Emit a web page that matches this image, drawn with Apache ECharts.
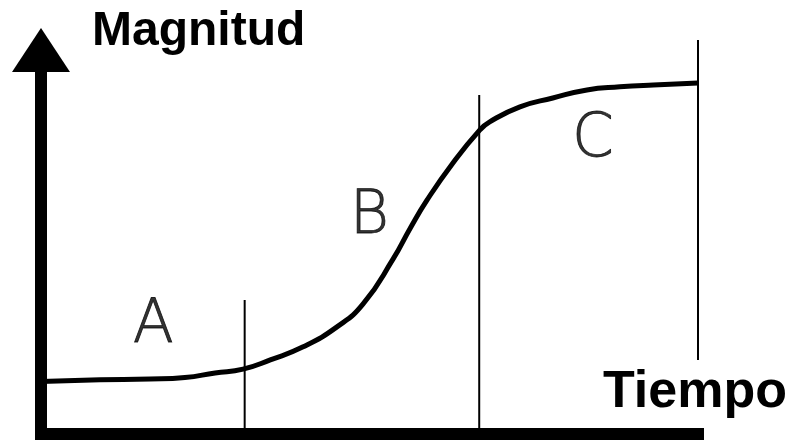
<!DOCTYPE html>
<html>
<head>
<meta charset="utf-8">
<script src="https://cdn.jsdelivr.net/npm/echarts@6/dist/echarts.min.js"></script>
<style>
  html, body { margin: 0; padding: 0; background: #fff; }
  #chart { width: 790px; height: 440px; }
</style>
</head>
<body>
<div id="chart"></div>
<script>
// Curve (time in % of total, magnitude in % of max)
const curveTime = [0, 8.98, 16.6, 21.9, 26.5, 30.75, 34.9, 39.9, 45.05, 49.0, 53.6, 56.2, 58.75, 62.7, 66.8, 68.3, 72.9, 77.9, 83.1, 88.1, 93.2, 100];
const curveMagnitude = [13.7, 14.1, 14.3, 14.7, 15.9, 16.9, 19.3, 22.7, 27.9, 33.8, 45.6, 53.6, 60.9, 70.6, 79.2, 81.3, 85.2, 87.5, 89.6, 90.4, 90.9, 91.4];

// Phase boundaries (vertical lines)
const boundaryTime = [31, 66.7, 100];
const boundaryBottom = [0, 0, 19.3];
const boundaryTop = [34.9, 88.3, 102.6];

// Phase labels
const phaseNames = ['A', 'B', 'C'];
const phaseTime = [17.1, 50.0, 84.0];
const phaseMagnitude = [28.0, 56.5, 76.4];

const axisNames = { x: 'Tiempo', y: 'Magnitud' };

const chart = echarts.init(document.getElementById('chart'), null, { renderer: 'canvas' });

const boundarySeries = boundaryTime.map((t, i) => ({
  type: 'line',
  clip: false,
  silent: true,
  showSymbol: false,
  symbol: 'none',
  z: 1,
  lineStyle: { color: '#000', width: 2 },
  data: [[t, boundaryBottom[i]], [t, boundaryTop[i]]]
}));

chart.setOption({
  backgroundColor: '#fff',
  animation: false,
  grid: { left: 41, right: 92, top: 50, bottom: 6, containLabel: false, outerBoundsMode: 'none' },
  xAxis: {
    type: 'value',
    min: 0,
    max: 100,
    name: axisNames.x,
    nameLocation: 'end',
    nameGap: 89,
    nameTextStyle: {
      fontFamily: 'Liberation Sans',
      fontWeight: 'bold',
      fontSize: 52,
      color: '#000',
      align: 'right',
      verticalAlign: 'bottom',
      padding: [0, 0, 15, 0]
    },
    axisLine: { show: true, lineStyle: { color: '#000', width: 12, cap: 'square' } },
    axisTick: { show: false },
    axisLabel: { show: false },
    splitLine: { show: false }
  },
  yAxis: {
    type: 'value',
    min: 0,
    max: 100,
    name: axisNames.y,
    nameLocation: 'end',
    nameGap: 18,
    nameTextStyle: {
      fontFamily: 'Liberation Sans',
      fontWeight: 'bold',
      fontSize: 48,
      color: '#000',
      align: 'left',
      verticalAlign: 'middle',
      padding: [0, 0, 0, 51]
    },
    axisLine: {
      show: true,
      symbol: ['none', 'triangle'],
      symbolSize: [58, 44],
      lineStyle: { color: '#000', width: 12, cap: 'square' }
    },
    axisTick: { show: false },
    axisLabel: { show: false },
    splitLine: { show: false }
  },
  series: [
    {
      type: 'line',
      smooth: 0.5,
      showSymbol: false,
      symbol: 'none',
      clip: false,
      z: 3,
      lineStyle: { color: '#000', width: 5 },
      data: curveTime.map((t, i) => [t, curveMagnitude[i]])
    },
    ...boundarySeries,
    {
      type: 'scatter',
      silent: true,
      symbolSize: 2,
      itemStyle: { color: 'rgba(0,0,0,0)' },
      z: 4,
      label: {
        show: true,
        position: 'inside',
        formatter: p => p.value[2],
        fontFamily: 'DejaVu Sans',
        fontWeight: 200,
        fontSize: 60,
        color: '#000',
        textBorderColor: '#000',
        textBorderWidth: 0.8
      },
      data: phaseNames.map((n, i) => [phaseTime[i], phaseMagnitude[i], n])
    }
  ]
});
</script>
</body>
</html>
